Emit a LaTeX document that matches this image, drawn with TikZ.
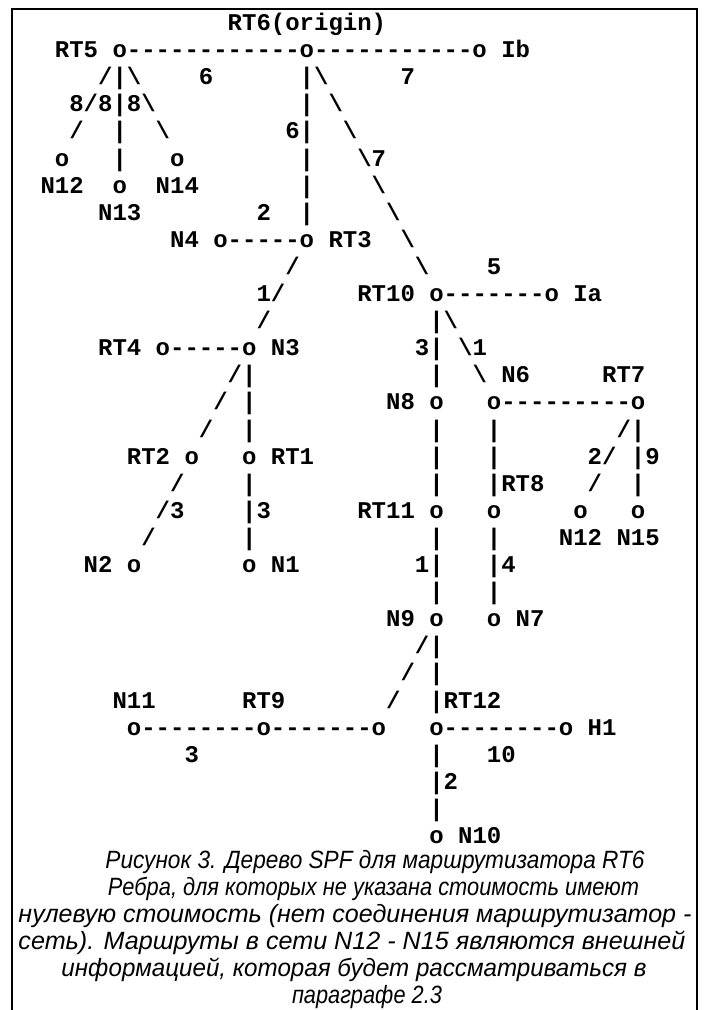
\documentclass[tikz,border=0pt]{standalone}
\usepackage{graphicx}
\usepackage{fontspec}
\setmonofont{Liberation Mono}
\newfontfamily\capfont{Liberation Sans}
\newcounter{seg}
\newcommand\tx[3]{\stepcounter{seg}\node[mono] (s\theseg) at ({-175.7+14.4*#1}, {30.5+27.1*(#2-1)}) {#3};}
\newcommand\bs{\textbackslash}
\newcommand\capline[5]{\node[capt] (#1) at (#2,#3) {\resizebox{#4pt}{\height}{#5}};}
\begin{document}
\begin{tikzpicture}[x=1pt,y=-1pt,
  mono/.style={font=\ttfamily\bfseries\fontsize{24}{27}\selectfont, anchor=base west, inner sep=0pt},
  capt/.style={font=\capfont\itshape\fontsize{25}{27}\selectfont, anchor=base, inner sep=0pt},
  frame/.style={line width=1.4pt}]
\useasboundingbox (0,0) rectangle (704,1010);
\draw[frame] (12,1012) -- (12,9) -- (697,9) -- (697,1012);
% row 1
\tx{28}{1}{RT6(origin)}
% row 2
\tx{16}{2}{RT5}\tx{20}{2}{o------------o-----------o}\tx{47}{2}{Ib}
% row 3
\tx{19}{3}{/|\bs}\tx{26}{3}{6}\tx{33}{3}{|\bs}\tx{40}{3}{7}
% row 4
\tx{17}{4}{8/8|8\bs}\tx{33}{4}{|}\tx{35}{4}{\bs}
% row 5
\tx{17}{5}{/}\tx{20}{5}{|}\tx{23}{5}{\bs}\tx{32}{5}{6|}\tx{36}{5}{\bs}
% row 6
\tx{16}{6}{o}\tx{20}{6}{|}\tx{24}{6}{o}\tx{33}{6}{|}\tx{37}{6}{\bs 7}
% row 7
\tx{15}{7}{N12}\tx{20}{7}{o}\tx{23}{7}{N14}\tx{33}{7}{|}\tx{38}{7}{\bs}
% row 8
\tx{19}{8}{N13}\tx{30}{8}{2}\tx{33}{8}{|}\tx{39}{8}{\bs}
% row 9
\tx{24}{9}{N4}\tx{27}{9}{o-----o}\tx{35}{9}{RT3}\tx{40}{9}{\bs}
% row 10
\tx{32}{10}{/}\tx{41}{10}{\bs}\tx{46}{10}{5}
% row 11
\tx{30}{11}{1/}\tx{37}{11}{RT10}\tx{42}{11}{o-------o}\tx{52}{11}{Ia}
% row 12
\tx{30}{12}{/}\tx{42}{12}{|\bs}
% row 13
\tx{19}{13}{RT4}\tx{23}{13}{o-----o}\tx{31}{13}{N3}\tx{41}{13}{3|}\tx{44}{13}{\bs 1}
% row 14
\tx{28}{14}{/|}\tx{42}{14}{|}\tx{45}{14}{\bs}\tx{47}{14}{N6}\tx{54}{14}{RT7}
% row 15
\tx{27}{15}{/}\tx{29}{15}{|}\tx{39}{15}{N8}\tx{42}{15}{o}\tx{46}{15}{o---------o}
% row 16
\tx{26}{16}{/}\tx{29}{16}{|}\tx{42}{16}{|}\tx{46}{16}{|}\tx{55}{16}{/|}
% row 17
\tx{21}{17}{RT2}\tx{25}{17}{o}\tx{29}{17}{o}\tx{31}{17}{RT1}\tx{42}{17}{|}\tx{46}{17}{|}\tx{53}{17}{2/}\tx{56}{17}{|9}
% row 18
\tx{24}{18}{/}\tx{29}{18}{|}\tx{42}{18}{|}\tx{46}{18}{|RT8}\tx{53}{18}{/}\tx{56}{18}{|}
% row 19
\tx{23}{19}{/3}\tx{29}{19}{|3}\tx{37}{19}{RT11}\tx{42}{19}{o}\tx{46}{19}{o}\tx{52}{19}{o}\tx{56}{19}{o}
% row 20
\tx{22}{20}{/}\tx{29}{20}{|}\tx{42}{20}{|}\tx{46}{20}{|}\tx{51}{20}{N12}\tx{55}{20}{N15}
% row 21
\tx{18}{21}{N2}\tx{21}{21}{o}\tx{29}{21}{o}\tx{31}{21}{N1}\tx{41}{21}{1|}\tx{46}{21}{|4}
% row 22
\tx{42}{22}{|}\tx{46}{22}{|}
% row 23
\tx{39}{23}{N9}\tx{42}{23}{o}\tx{46}{23}{o}\tx{48}{23}{N7}
% row 24
\tx{41}{24}{/|}
% row 25
\tx{40}{25}{/}\tx{42}{25}{|}
% row 26
\tx{20}{26}{N11}\tx{29}{26}{RT9}\tx{39}{26}{/}\tx{42}{26}{|RT12}
% row 27
\tx{21}{27}{o--------o-------o}\tx{42}{27}{o--------o}\tx{53}{27}{H1}
% row 28
\tx{25}{28}{3}\tx{42}{28}{|}\tx{46}{28}{10}
% row 29
\tx{42}{29}{|2}
% row 30
\tx{42}{30}{|}
% row 31
\tx{42}{31}{o}\tx{44}{31}{N10}
% caption
\capline{c1}{375}{868}{539}{Рисунок 3. Дерево SPF для маршрутизатора RT6}
\capline{c2}{373.5}{895}{531}{Ребра, для которых не указана стоимость имеют}
\capline{c3}{355}{922}{673}{нулевую стоимость (нет соединения маршрутизатор -}
\capline{c4}{352}{949}{667}{сеть). Маршруты в сети N12 - N15 являются внешней}
\capline{c5}{354}{976}{585}{информацией, которая будет рассматриваться в}
\capline{c6}{367}{1003}{150}{параграфе 2.3}
\end{tikzpicture}
\end{document}
